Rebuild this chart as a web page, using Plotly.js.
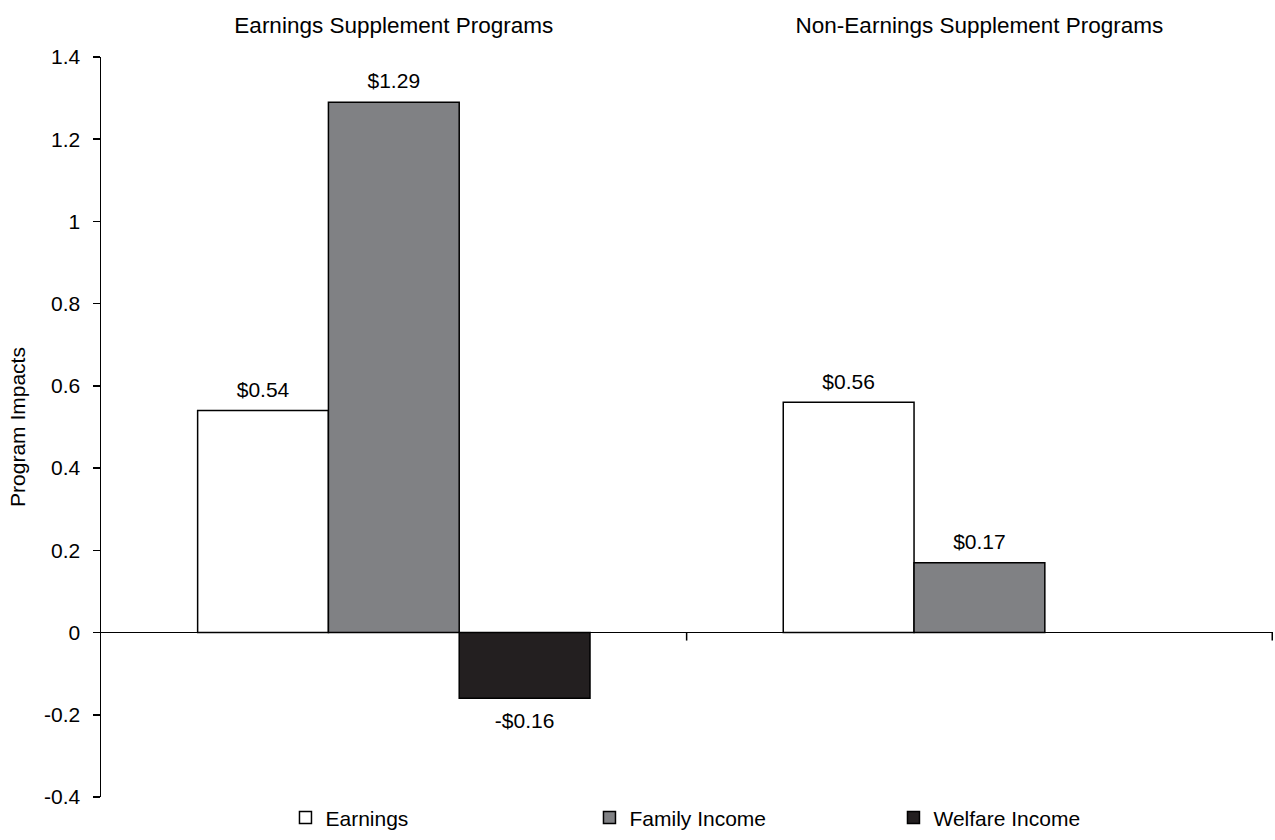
<!DOCTYPE html>
<html>
<head>
<meta charset="utf-8">
<script src="https://cdn.plot.ly/plotly-3.0.1.min.js"></script>
<style>html,body{margin:0;padding:0;background:#fff;}#chart{width:1275px;height:840px;}</style>
</head>
<body>
<div id="chart"></div>
<script>
const categories = ["Earnings Supplement Programs", "Non-Earnings Supplement Programs"];
const earnings = [0.54, 0.56];
const familyIncome = [1.29, 0.17];
const welfareIncome = [-0.16, null];
const seriesNames = ["Earnings", "Family Income", "Welfare Income"];
const yTicks = [-0.4, -0.2, 0, 0.2, 0.4, 0.6, 0.8, 1, 1.2, 1.4];

const FONT = "Arial, 'Liberation Sans', sans-serif";
function fmt(v) {
  if (v === null) return "";
  return (v < 0 ? "-$" : "$") + Math.abs(v).toFixed(2);
}
const isNeg = v => v !== null && v < 0;

function bar(name, vals, color) {
  return {
    type: "bar", name: name, x: categories, y: vals,
    marker: {color: color, line: {color: "#000", width: 1.5}},
    hoverinfo: "skip"
  };
}
function labels(vals) {
  return {
    type: "scatter", mode: "markers+text", x: categories, y: vals,
    text: vals.map(fmt),
    textposition: vals.map(v => isNeg(v) ? "bottom center" : "top center"),
    textfont: {family: FONT, size: 21, color: "#000"},
    marker: {size: vals.map(v => isNeg(v) ? 20 : 12), opacity: 0, color: "#fff"},
    cliponaxis: false, showlegend: false, hoverinfo: "skip"
  };
}

const data = [
  bar(seriesNames[0], earnings, "#ffffff"),
  bar(seriesNames[1], familyIncome, "#808184"),
  bar(seriesNames[2], welfareIncome, "#231f20"),
  labels(earnings), labels(familyIncome), labels(welfareIncome)
];

const layout = {
  width: 1275, height: 840,
  margin: {l: 101, r: 2, t: 57, b: 43},
  paper_bgcolor: "#fff", plot_bgcolor: "#fff",
  font: {family: FONT, size: 21, color: "#000"},
  barmode: "group", bargap: 0.33, bargroupgap: 0,
  scattermode: "group", scattergap: 0.33,
  showlegend: true,
  legend: {
    orientation: "h", x: 0.1574, xanchor: "left",
    yref: "container", y: 0.002, yanchor: "bottom",
    font: {family: FONT, size: 21}, traceorder: "normal",
    entrywidth: 259, entrywidthmode: "pixels", itemwidth: 30
  },
  xaxis: {
    type: "category", side: "top", showline: false, ticks: "",
    showgrid: false, zeroline: false, ticklabelstandoff: 19,
    tickfont: {family: FONT, size: 22.5}, fixedrange: true
  },
  yaxis: {
    range: [-0.4, 1.4], tickvals: yTicks, ticktext: yTicks.map(String),
    showline: true, linecolor: "#000", linewidth: 1.5,
    ticks: "outside", ticklen: 7, tickwidth: 1.5, tickcolor: "#000",
    ticklabelstandoff: 8,
    showgrid: false, zeroline: true, zerolinecolor: "#000", zerolinewidth: 1.5,
    tickfont: {family: FONT, size: 21},
    title: {text: "Program Impacts", font: {family: FONT, size: 21}, standoff: 13},
    fixedrange: true
  },
  shapes: [0.5, 1.5].map(xb => ({
    type: "line", xref: "x", yref: "y", ysizemode: "pixel", yanchor: 0,
    x0: xb, x1: xb, y0: 0, y1: -8, line: {color: "#000", width: 1.5}
  }))
};

Plotly.newPlot("chart", data, layout, {displayModeBar: false, staticPlot: true});
</script>
</body>
</html>
